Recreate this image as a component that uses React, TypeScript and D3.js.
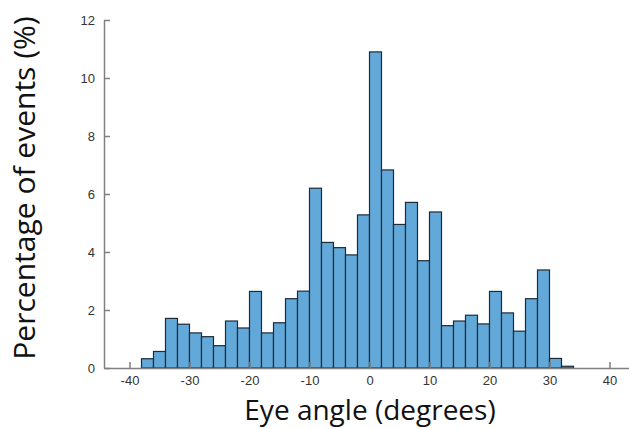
import * as d3 from "d3";
import { useEffect, useRef } from "react";

// bin left edges (degrees), each bin is 2 degrees wide
const binStarts = [
  -38, -36, -34, -32, -30, -28, -26, -24, -22, -20, -18, -16, -14, -12, -10, -8, -6, -4,
  -2, 0, 2, 4, 6, 8, 10, 12, 14, 16, 18, 20, 22, 24, 26, 28, 30, 32,
];
const percentages = [
  0.32, 0.57, 1.71, 1.51, 1.21, 1.08, 0.77, 1.62, 1.38, 2.64, 1.21, 1.56, 2.39, 2.65, 6.2,
  4.33, 4.15, 3.9, 5.28, 10.9, 6.83, 4.95, 5.71, 3.7, 5.38, 1.46, 1.62, 1.82, 1.52, 2.64,
  1.9, 1.27, 2.39, 3.38, 0.33, 0.06,
];
const xTicks = [-40, -30, -20, -10, 0, 10, 20, 30, 40];
const yTicks = [0, 2, 4, 6, 8, 10, 12];

const W = 629;
const H = 429;
const binWidth = 2;

export default function App() {
  const svgRef = useRef<SVGSVGElement>(null);

  useEffect(() => {
    const svg = d3.select(svgRef.current);
    svg.selectAll("*").remove();

    const x = d3.scaleLinear().domain([-44.25, 43.25]).range([104, 629]);
    const y = d3.scaleLinear().domain([0, 12]).range([368, 20]);

    const data = binStarts.map((s, i) => ({ s, v: percentages[i] }));

    svg
      .append("g")
      .selectAll("rect")
      .data(data)
      .join("rect")
      .attr("x", (d) => x(d.s))
      .attr("y", (d) => y(d.v))
      .attr("width", (d) => x(d.s + binWidth) - x(d.s))
      .attr("height", (d) => y(0) - y(d.v))
      .attr("fill", "#62a8d9")
      .attr("stroke", "#1c2b38")
      .attr("stroke-width", 1.2);

    // plain hyphen minus, like the original
    const fmt = (d: d3.NumberValue) => String(d);

    const xAxis = svg
      .append("g")
      .attr("transform", `translate(0,${y(0)})`)
      .call(
        d3
          .axisBottom(x)
          .tickValues(xTicks)
          .tickFormat(fmt)
          .tickSize(-6)
          .tickSizeOuter(0)
          .tickPadding(6)
      );

    const yAxis = svg
      .append("g")
      .attr("transform", `translate(${x.range()[0]},0)`)
      .call(
        d3
          .axisLeft(y)
          .tickValues(yTicks)
          .tickFormat(fmt)
          .tickSize(-6)
          .tickSizeOuter(0)
          .tickPadding(9)
      );

    [xAxis, yAxis].forEach((g) => {
      g.select(".domain").attr("stroke", "#808080").attr("stroke-width", 1.5);
      g.selectAll(".tick line").attr("stroke", "#808080").attr("stroke-width", 1.5);
      g.selectAll(".tick text")
        .attr("fill", "#333")
        .attr("font-family", "Liberation Sans, Arial, sans-serif")
        .attr("font-size", 13);
    });
    xAxis.selectAll(".tick text").attr("dy", "0.85em");

    svg
      .append("text")
      .attr("x", 370)
      .attr("y", 420)
      .attr("text-anchor", "middle")
      .attr("font-family", "Open Sans, Noto Sans, sans-serif")
      .attr("font-size", 28)
      .attr("fill", "#111")
      .text("Eye angle (degrees)");

    svg
      .append("text")
      .attr("transform", "translate(35,188) rotate(-90)")
      .attr("text-anchor", "middle")
      .attr("font-family", "Open Sans, Noto Sans, sans-serif")
      .attr("font-size", 30)
      .attr("fill", "#111")
      .text("Percentage of events (%)");
  }, []);

  return (
    <svg
      ref={svgRef}
      width={W}
      height={H}
      style={{ position: "absolute", left: 0, top: 0, background: "#fff" }}
    />
  );
}
